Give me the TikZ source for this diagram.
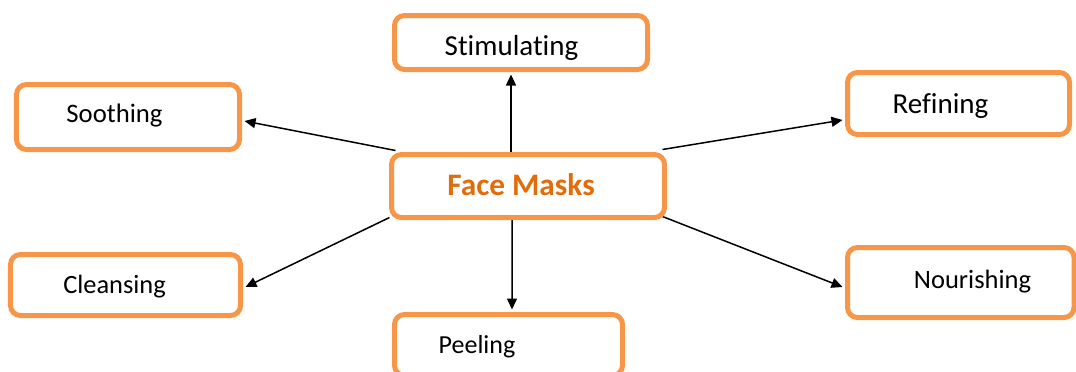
\documentclass[tikz,border=0pt]{standalone}
\usepackage{fontspec}
\setmainfont{Carlito}[Ligatures=NoCommon]
\usetikzlibrary{arrows.meta,calc,backgrounds}
\definecolor{boxorange}{HTML}{F79646}
\definecolor{textorange}{HTML}{E36C0A}
\tikzset{
  box/.style={draw=boxorange, line width=5bp, rounded corners=10bp, fill=white, inner sep=0pt},
  lbl/.style={anchor=base, inner sep=0pt, font=\fontsize{#1bp}{34bp}\selectfont, text=black},
  lbl/.default=26.5,
  mainlbl/.style={anchor=base, inner sep=0pt, font=\fontsize{31.3bp}{36bp}\selectfont\bfseries, text=textorange},
  arr/.style={line width=1.5bp, black, -{Triangle[length=11bp,width=10bp]}}
}
\begin{document}
\begin{tikzpicture}[x=1bp,y=-1bp]
\useasboundingbox (0,0) rectangle (1076,371);
% boxes
\node[box, minimum width=253bp, minimum height=54bp] (stim) at (521,42.5) {};
\node[box, minimum width=223bp, minimum height=65bp] (sooth) at (128,117) {};
\node[box, minimum width=273bp, minimum height=63bp] (fm) at (528,186) {};
\node[box, minimum width=222bp, minimum height=62bp] (ref) at (958.5,103.5) {};
\node[box, minimum width=230bp, minimum height=61bp] (clean) at (125.5,285) {};
\node[box, minimum width=226.5bp, minimum height=70bp] (nour) at (960.75,282.5) {};
\node[box, minimum width=228bp, minimum height=61bp] (peel) at (508.5,345) {};
% texts
\node[lbl=29] (stimT) at (511.5,55) {Stimulating};
\node[lbl=26.7] (soothT) at (114.5,122) {Soothing};
\node[mainlbl] (fmT) at (521,195) {Face Masks};
\node[lbl=29] (refT) at (940.5,113) {Refining};
\node[lbl=26.4] (cleanT) at (114.5,293) {Cleansing};
\node[lbl=26.5] (nourT) at (972.5,288) {Nourishing};
\node[lbl=26] (peelT) at (477,353) {Peeling};
% connectors
\begin{scope}[on background layer]
\draw[arr] ($(fm.north)+(-17,0)$) -- ($(stim.south)+(-10,2.5)$);
\draw[arr] ($(fm.south)+(-16,0)$) -- ($(peel.north)+(3.5,-2.5)$);
\draw[arr] ($(fm.north west)+(6.5,-1.5)$) -- ($(sooth.east)+(2.5,4)$);
\draw[arr] ($(fm.north east)+(-4.5,-2.5)$) -- ($(ref.west)+(-2.5,16.5)$);
\draw[arr] ($(fm.south west)+(0.5,-2.5)$) -- ($(clean.east)+(2.5,2)$);
\draw[arr] ($(fm.south east)+(-4.5,-3.5)$) -- ($(nour.west)+(-2.5,4.5)$);
\end{scope}
\end{tikzpicture}
\end{document}
